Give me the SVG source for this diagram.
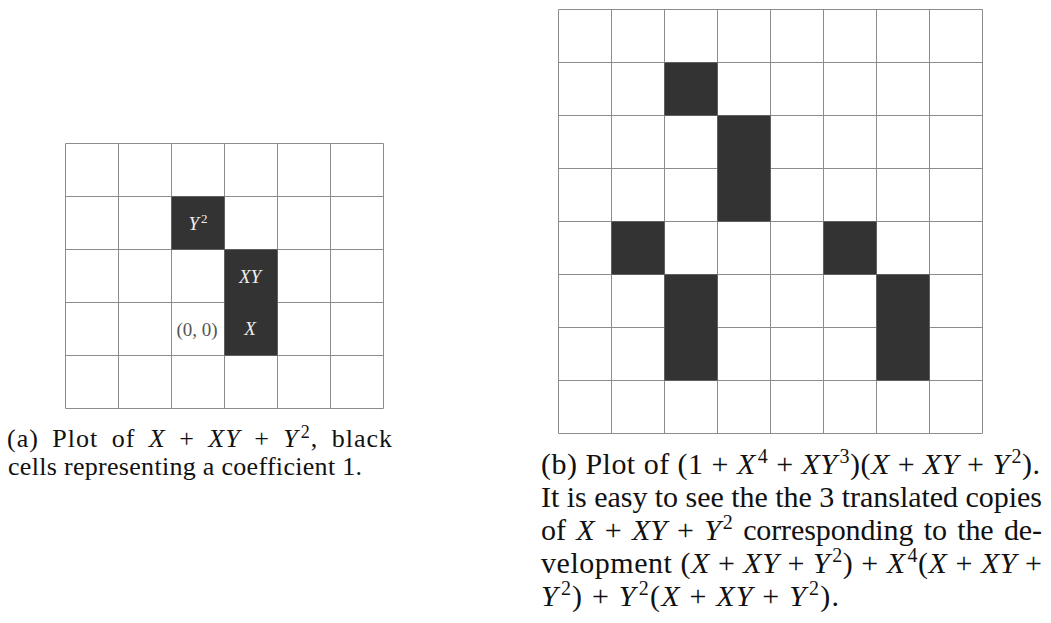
<svg xmlns="http://www.w3.org/2000/svg" width="1051" height="623" viewBox="0 0 1051 623">
<style>
.grid{fill:none;stroke:#8c8c8c;stroke-width:1}
.on{fill:#333333}
.cap{font-family:"Liberation Serif","Times New Roman",serif;fill:#111}
.m{font-style:italic}
.lab{font-family:"Liberation Serif","Times New Roman",serif;font-size:19px;text-anchor:middle}
</style>
<rect width="1051" height="623" fill="#ffffff"/>
<g id="grid-a">
<path class="grid" d="M65.5 143.5V408.5M118.5 143.5V408.5M171.5 143.5V408.5M224.5 143.5V408.5M277.5 143.5V408.5M330.5 143.5V408.5M383.5 143.5V408.5M65.5 143.5H383.5M65.5 196.5H383.5M65.5 249.5H383.5M65.5 302.5H383.5M65.5 355.5H383.5M65.5 408.5H383.5"/>
<rect class="on" x="171.5" y="196.5" width="53" height="53"/>
<rect class="on" x="224.5" y="249.5" width="53" height="106"/>
<text class="lab m" x="198" y="230" fill="#eeeeee">Y<tspan font-size="13" dx="2" dy="-7" font-style="normal">2</tspan></text>
<text class="lab m" x="250" y="283" fill="#eeeeee">XY</text>
<text class="lab m" x="250" y="335" fill="#eeeeee">X</text>
<text class="lab" x="197" y="336" fill="#555555">(0, 0)</text>
</g>
<g id="grid-b">
<path class="grid" d="M558.5 9.5V433.5M611.5 9.5V433.5M664.5 9.5V433.5M717.5 9.5V433.5M770.5 9.5V433.5M823.5 9.5V433.5M876.5 9.5V433.5M929.5 9.5V433.5M982.5 9.5V433.5M558.5 9.5H982.5M558.5 62.5H982.5M558.5 115.5H982.5M558.5 168.5H982.5M558.5 221.5H982.5M558.5 274.5H982.5M558.5 327.5H982.5M558.5 380.5H982.5M558.5 433.5H982.5"/>
<rect class="on" x="664.5" y="62.5" width="53" height="53"/>
<rect class="on" x="717.5" y="115.5" width="53" height="106"/>
<rect class="on" x="611.5" y="221.5" width="53" height="53"/>
<rect class="on" x="823.5" y="221.5" width="53" height="53"/>
<rect class="on" x="664.5" y="274.5" width="53" height="106"/>
<rect class="on" x="876.5" y="274.5" width="53" height="106"/>
</g>
<g id="caption-a" class="cap" font-size="26">
<text x="7" y="447" textLength="385" lengthAdjust="spacing" word-spacing="6">(a) Plot of <tspan class="m">X</tspan> + <tspan class="m">XY</tspan> + <tspan class="m">Y</tspan><tspan font-size="18" dx="2" dy="-9">2</tspan><tspan dy="9">, black</tspan></text>
<text x="8" y="475" textLength="354" lengthAdjust="spacing">cells representing a coefficient 1.</text>
</g>
<g id="caption-b" class="cap" font-size="30">
<text x="541" y="474" textLength="499" lengthAdjust="spacing">(b) Plot of (1 + <tspan class="m">X</tspan><tspan font-size="20" dx="2" dy="-11">4</tspan><tspan dy="11"> + </tspan><tspan class="m">XY</tspan><tspan font-size="20" dx="2" dy="-11">3</tspan><tspan dy="11">)(</tspan><tspan class="m">X</tspan> + <tspan class="m">XY</tspan> + <tspan class="m">Y</tspan><tspan font-size="20" dx="2" dy="-11">2</tspan><tspan dy="11">).</tspan></text>
<text x="541" y="507" textLength="501" lengthAdjust="spacing">It is easy to see the the 3 translated copies</text>
<text x="541" y="540" textLength="501" lengthAdjust="spacing" word-spacing="3">of <tspan class="m">X</tspan> + <tspan class="m">XY</tspan> + <tspan class="m">Y</tspan><tspan font-size="20" dx="2" dy="-11">2</tspan><tspan dy="11"> corresponding to the de-</tspan></text>
<text x="541" y="573" textLength="501" lengthAdjust="spacing">velopment (<tspan class="m">X</tspan> + <tspan class="m">XY</tspan> + <tspan class="m">Y</tspan><tspan font-size="20" dx="2" dy="-11">2</tspan><tspan dy="11">) + </tspan><tspan class="m">X</tspan><tspan font-size="20" dx="2" dy="-11">4</tspan><tspan dy="11">(</tspan><tspan class="m">X</tspan> + <tspan class="m">XY</tspan> +</text>
<text x="541" y="606" textLength="298" lengthAdjust="spacing"><tspan class="m">Y</tspan><tspan font-size="20" dx="2" dy="-11">2</tspan><tspan dy="11">) + </tspan><tspan class="m">Y</tspan><tspan font-size="20" dx="2" dy="-11">2</tspan><tspan dy="11">(</tspan><tspan class="m">X</tspan> + <tspan class="m">XY</tspan> + <tspan class="m">Y</tspan><tspan font-size="20" dx="2" dy="-11">2</tspan><tspan dy="11">).</tspan></text>
</g>
</svg>
